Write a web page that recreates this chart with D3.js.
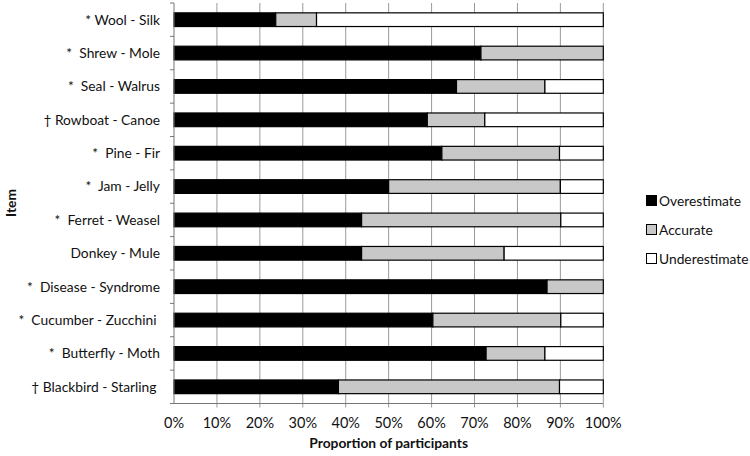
<!DOCTYPE html>
<html><head><meta charset="utf-8">
<script src="https://cdn.jsdelivr.net/npm/d3@7"></script>
<style>body{margin:0;background:#fff}svg{display:block}text{font-family:Lato,"Open Sans",sans-serif}</style>
</head><body><svg id="c" width="750" height="456"></svg>
<script>
const items = ["* Wool - Silk","*  Shrew - Mole","*  Seal - Walrus","† Rowboat - Canoe","*  Pine - Fir","*  Jam - Jelly","*  Ferret - Weasel","Donkey - Mule","*  Disease - Syndrome","*  Cucumber - Zucchini ","*  Butterfly - Moth","† Blackbird - Starling "];
const overestimate  = [23.7,71.5,65.8,59.0,62.4,50.0,43.7,43.7,86.9,60.3,72.7,38.3];
const accurate      = [ 9.5,28.5,20.6,13.4,27.4,40.0,46.4,33.2,13.1,29.8,13.7,51.5];
const underestimate = [66.8, 0.0,13.6,27.6,10.2,10.0, 9.9,23.1, 0.0, 9.9,13.6,10.2];
const seriesNames = ["Overestimate","Accurate","Underestimate"];
const tickValues = [0,10,20,30,40,50,60,70,80,90,100];
const colors = ["#000000","#c8c8c8","#ffffff"];

const svg = d3.select("#c");
const L = 174, R = 603.3, T = 3, B = 403.5;
const x = d3.scaleLinear().domain([0,100]).range([L,R]);
const y = d3.scaleBand().domain(items).range([T,B]).paddingInner(0.59).paddingOuter(0.295);

// gridlines
svg.append("g").selectAll("line").data(tickValues.slice(1)).join("line")
  .attr("x1",d=>x(d)).attr("x2",d=>x(d)).attr("y1",T).attr("y2",B+4)
  .attr("stroke","#9a9a9a").attr("stroke-width",1);

// data stacking
const rows = items.map((it,i)=>({item:it,Overestimate:overestimate[i],Accurate:accurate[i],Underestimate:underestimate[i]}));
const stack = d3.stack().keys(seriesNames)(rows);
svg.append("g").selectAll("g").data(stack).join("g")
  .attr("fill",(d,i)=>colors[i])
  .selectAll("rect").data(d=>d.filter(p=>p[1]-p[0]>0)).join("rect")
  .attr("x",d=>x(d[0])).attr("width",d=>x(d[1])-x(d[0]))
  .attr("y",d=>y(d.data.item)).attr("height",y.bandwidth())
  .attr("stroke","#000").attr("stroke-width",1.2);

// y axis
const ya = svg.append("g").attr("transform",`translate(${L},0)`);
ya.append("line").attr("x1",0).attr("x2",0).attr("y1",T).attr("y2",B).attr("stroke","#777");
const bounds = d3.range(items.length+1).map(i=>T+i*(B-T)/items.length);
ya.selectAll(".tk").data(bounds).join("line").attr("x1",-4).attr("x2",0)
  .attr("y1",d=>d).attr("y2",d=>d).attr("stroke","#777");
ya.selectAll("text").data(items).join("text")
  .attr("x",-14).attr("y",d=>y(d)+y.bandwidth()/2).attr("dy","0.35em")
  .attr("text-anchor","end").attr("font-size",13.8).attr("fill","#111")
  .style("white-space","pre").text(d=>d);

// x axis
const xa = svg.append("g").attr("transform",`translate(0,${B})`);
xa.append("line").attr("x1",L).attr("x2",R).attr("stroke","#777");
xa.selectAll("text").data(tickValues).join("text")
  .attr("x",d=>x(d)).attr("y",24).attr("text-anchor","middle")
  .attr("font-size",14.5).attr("fill","#111").text(d=>d+"%");

svg.append("text").attr("x",(L+R)/2).attr("y",448).attr("text-anchor","middle")
  .attr("font-size",13.8).attr("font-weight","bold").attr("fill","#111").text("Proportion of participants");
svg.append("text").attr("transform","translate(16,203) rotate(-90)").attr("text-anchor","middle")
  .attr("font-size",13.8).attr("font-weight","bold").attr("fill","#111").text("Item");

// legend
const lg = svg.append("g");
seriesNames.forEach((s,i)=>{
  const yy = 201 + i*29;
  lg.append("rect").attr("x",646.5).attr("y",yy-5.5).attr("width",10).attr("height",10)
    .attr("fill",colors[i]).attr("stroke","#000").attr("stroke-width",1);
  lg.append("text").attr("x",659).attr("y",yy).attr("dy","0.35em")
    .attr("font-size",13.8).attr("fill","#111").text(s);
});
</script></body></html>
